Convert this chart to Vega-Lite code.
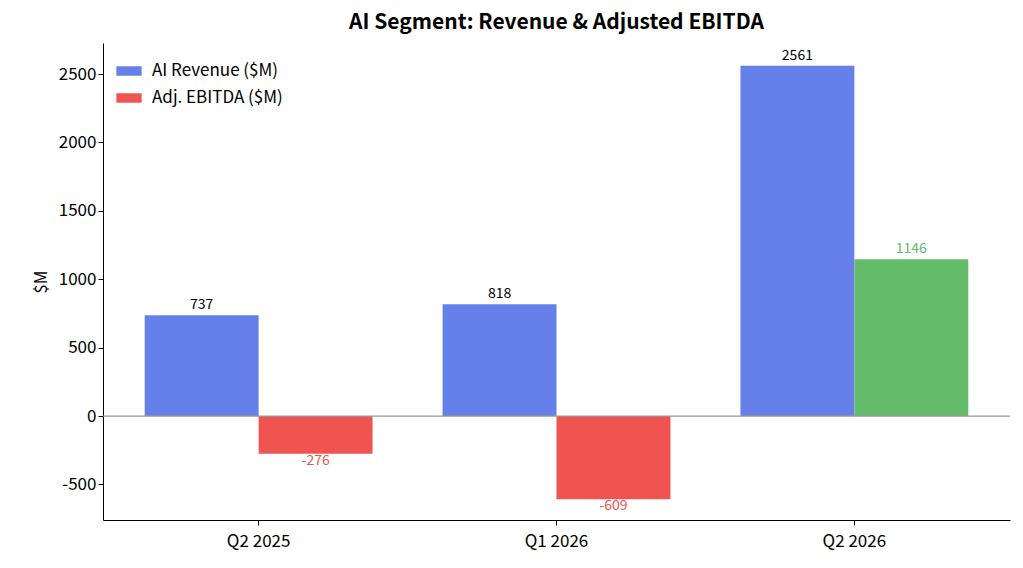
{
  "$schema": "https://vega.github.io/schema/vega-lite/v6.json",
  "autosize": "none",
  "padding": {"left": 103, "top": 43, "right": 13, "bottom": 48},
  "width": 907,
  "height": 477,
  "background": "white",
  "config": {
    "font": "Noto Sans CJK SC",
    "view": {"stroke": null},
    "axis": {"grid": false, "domainColor": "black", "tickColor": "black", "labelColor": "black", "labelFontSize": 17, "titleFontSize": 17, "titleFontWeight": "normal", "titleColor": "black"}
  },
  "title": {"text": "AI Segment: Revenue & Adjusted EBITDA", "fontSize": 21, "fontWeight": "bold", "color": "black", "offset": 10},
  "data": {"values": [
    {"quarter": "Q2 2025", "series": "AI Revenue ($M)", "value": 737},
    {"quarter": "Q2 2025", "series": "Adj. EBITDA ($M)", "value": -276},
    {"quarter": "Q1 2026", "series": "AI Revenue ($M)", "value": 818},
    {"quarter": "Q1 2026", "series": "Adj. EBITDA ($M)", "value": -609},
    {"quarter": "Q2 2026", "series": "AI Revenue ($M)", "value": 2561},
    {"quarter": "Q2 2026", "series": "Adj. EBITDA ($M)", "value": 1146}
  ]},
  "encoding": {
    "x": {"field": "quarter", "type": "nominal", "sort": null, "title": null,
      "scale": {"paddingInner": 0.235, "paddingOuter": 0.14},
      "axis": {"labelAngle": 0, "labelPadding": 8}},
    "xOffset": {"field": "series", "type": "nominal", "sort": null, "scale": {"paddingInner": 0}},
    "y": {"field": "value", "type": "quantitative", "title": "$M",
      "scale": {"domain": [-760, 2727], "nice": false, "zero": false},
      "axis": {"values": [-500, 0, 500, 1000, 1500, 2000, 2500], "labelExpr": "'' + datum.value", "titlePadding": 8}}
  },
  "layer": [
    {
      "mark": {"type": "bar"},
      "encoding": {
        "color": {
          "condition": {"test": "datum.series == 'Adj. EBITDA ($M)' && datum.value > 0", "value": "#64bc6a"},
          "field": "series", "type": "nominal", "sort": null,
          "scale": {"domain": ["AI Revenue ($M)", "Adj. EBITDA ($M)"], "range": ["#6680ea", "#f05450"]},
          "legend": {"title": null, "orient": "none", "legendX": 17, "legendY": 19, "labelFontSize": 17, "labelColor": "black",
            "symbolType": "M-1.6,-0.6H1.6V0.6H-1.6Z", "symbolSize": 250, "symbolOpacity": 1, "rowPadding": 10, "labelOffset": 14}
        }
      }
    },
    {
      "mark": {"type": "rule", "color": "#999", "strokeWidth": 1.2},
      "data": {"values": [{"z": 0}]},
      "encoding": {"y": {"field": "z", "type": "quantitative"}, "x": null, "xOffset": null}
    },
    {
      "transform": [{"filter": "datum.value >= 0"}],
      "mark": {"type": "text", "fontSize": 14, "baseline": "bottom", "dy": -3},
      "encoding": {
        "text": {"field": "value", "type": "quantitative"},
        "color": {"condition": {"test": "datum.series == 'AI Revenue ($M)'", "value": "black"}, "value": "#64bc6a"}
      }
    },
    {
      "transform": [{"filter": "datum.value < 0"}, {"calculate": "'' + datum.value", "as": "label"}],
      "mark": {"type": "text", "fontSize": 14, "baseline": "top", "dy": 0, "color": "#f05450"},
      "encoding": {
        "text": {"field": "label", "type": "nominal"}
      }
    }
  ]
}
